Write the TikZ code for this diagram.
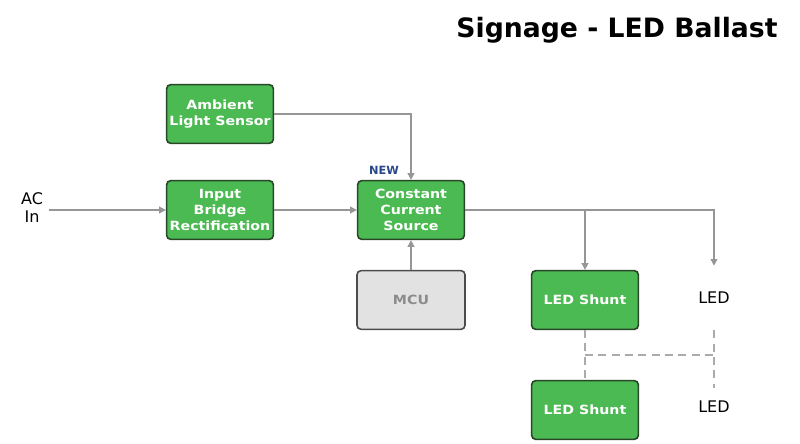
\documentclass[tikz,border=0pt]{standalone}
\usepackage{fontspec}
\setmainfont{DejaVu Sans}
\newfontfamily\boxfont[FakeStretch=1.12]{DejaVu Sans}
\usetikzlibrary{arrows.meta,calc,positioning}

\definecolor{boxgreen}{RGB}{76,186,82}
\definecolor{boxedge}{RGB}{40,70,40}
\definecolor{wiregray}{RGB}{150,150,150}
\definecolor{mcufill}{RGB}{226,226,226}
\definecolor{newblue}{RGB}{40,70,140}

\begin{document}
\begin{tikzpicture}[x=0.75pt,y=-0.75pt,>={Triangle[length=5pt,width=5pt]},
    greenbox/.style={draw=boxedge,line width=1.2pt,fill=boxgreen,rounded corners=3pt,
      text=white,font=\boxfont\fontsize{9.5}{12}\selectfont\bfseries,align=center,
      minimum width=80pt,minimum height=44pt,inner sep=1pt},
    graybox/.style={draw=black!70,line width=1.2pt,fill=mcufill,rounded corners=3pt,
      text=black!45,font=\boxfont\fontsize{9.5}{12}\selectfont\bfseries,
      minimum width=81pt,minimum height=44pt},
    plain/.style={font=\fontsize{12}{13.5}\selectfont,align=center},
    wire/.style={draw=wiregray,line width=1.1pt},
    dashwire/.style={draw=wiregray!80,line width=1.3pt,dash pattern=on 6pt off 4pt}]
    \useasboundingbox (0,0) rectangle (800,443);
    % title
    \node (title) at (617,30) {\fontsize{20}{24}\selectfont\bfseries Signage - LED Ballast};
    % blocks
    \node (amb) at (220,114) [greenbox]{Ambient\\Light Sensor};
    \node (bridge) at (220,210) [greenbox]{Input\\Bridge\\Rectification};
    \node (ccs) at (411,210) [greenbox]{Constant\\Current\\Source};
    \node (mcu) at (411,300) [graybox]{MCU};
    \node (shunt1) at (585,300) [greenbox]{LED Shunt};
    \node (shunt2) at (585,410) [greenbox]{LED Shunt};
    % labels
    \node (acin) at (32,208) [plain,inner sep=4pt]{AC\\In};
    \node (new) at (384,170) [text=newblue,font=\fontsize{8.5}{9}\selectfont\bfseries]{NEW};
    \node (led1) at (714,298) [plain,inner sep=0pt,minimum height=48pt]{LED};
    \node (led2) at (714,407) [plain,inner sep=0pt,minimum height=28pt]{LED};
    % wires
    \draw[wire,->] (acin.east |- bridge.west) -- (bridge.west);
    \draw[wire,->] (bridge) -- (ccs);
    \draw[wire,->] (amb) -| (ccs);
    \draw[wire,->] (mcu) -- (ccs);
    \draw[wire,->] (ccs) -| (shunt1);
    \draw[wire,->] (ccs) -| (led1);
    % dashed links
    \coordinate (mid) at ($(shunt1.south)!0.5!(shunt2.north)$);
    \draw[dashwire] (shunt1) -- (shunt2);
    \draw[dashwire] (led1) -- (led2);
    \draw[dashwire] (mid) -- (mid -| led1.south);
\end{tikzpicture}
\end{document}
